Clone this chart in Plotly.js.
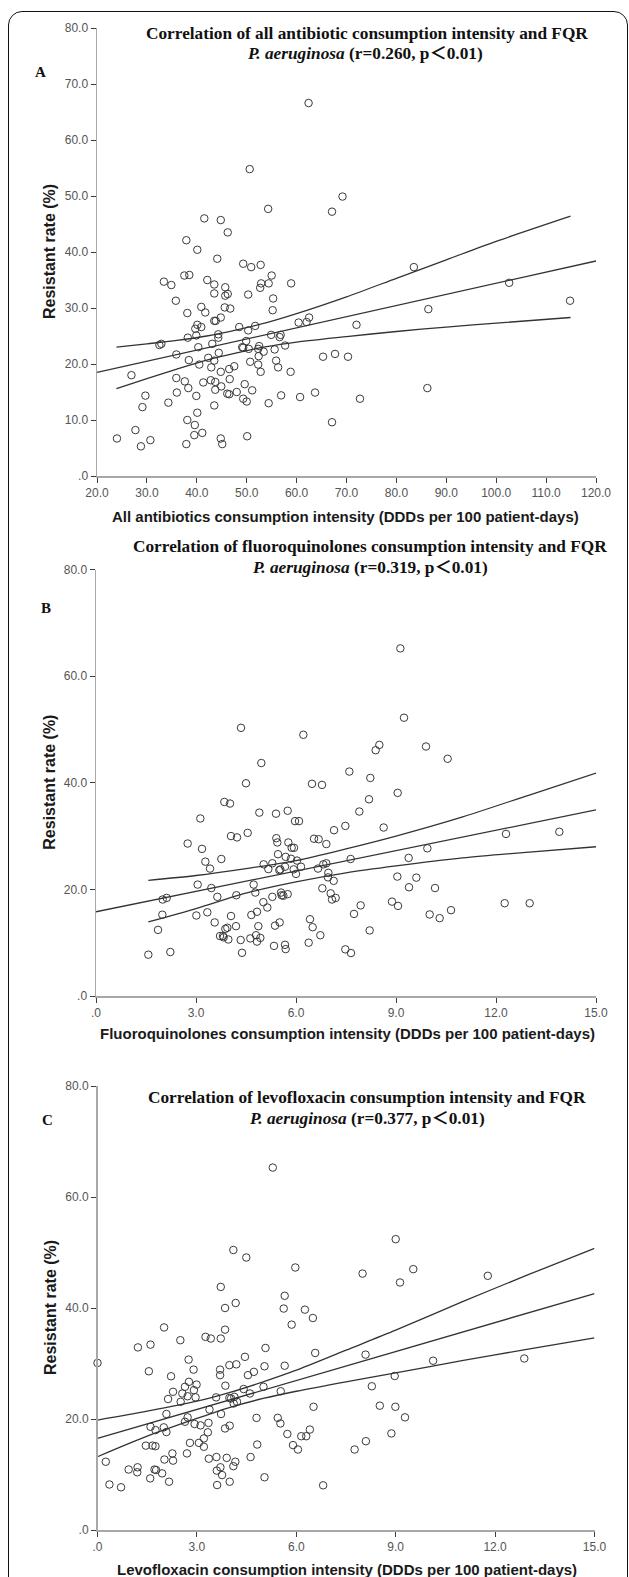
<!DOCTYPE html>
<html><head><meta charset="utf-8">
<script src="https://cdn.plot.ly/plotly-3.0.1.min.js"></script>
<style>
html,body{margin:0;padding:0;background:#fff;overflow:hidden;width:629px;height:1577px;}
#frame{position:absolute;left:8px;top:11px;width:620px;height:1640px;border:1.5px solid #111;border-radius:14px;box-sizing:border-box;}
#chart{position:absolute;left:0;top:0;width:629px;height:1577px;}
</style></head><body>
<div id="frame"></div>
<div id="chart"></div>
<script>
// ---------- Panel A: all antibiotics ----------
const aX = [54.3,67.1,41.5,44.8,46.2,37.9,40.1,44.1,49.3,50.9,52.8,55.0,37.5,38.5,33.4,34.9,42.1,43.5,45.7,52.9,52.7,54.4,58.9,43.5,45.7,46.2,50.3,55.3,35.8,55.2,40.9,45.6,46.7,38.1,41.7,43.5,43.8,44.8,40.1,40.9,39.7,48.5,51.7,50.3,60.4,62.0,62.5,72.0,38.2,39.9,44.3,44.3,54.9,56.8,56.6,32.5,32.9,43.1,40.3,49.1,49.3,49.9,50.4,52.5,52.3,57.7,55.6,53.4,44.4,35.9,52.4,65.3,67.7,70.3,38.4,42.3,43.5,50.7,55.9,40.5,52.3,42.9,47.5,46.5,56.3,44.8,52.8,58.8,26.9,35.9,37.6,42.8,46.6,41.3,43.7,49.6,38.3,43.7,44.9,51.1,36.0,29.7,39.9,46.1,46.5,48.0,49.3,50.0,56.9,60.7,63.7,54.4,34.3,29.1,43.5,40.1,38.1,39.6,67.1,27.7,39.5,41.1,50.1,24.0,30.7,44.8,28.8,37.9,45.1,62.4,50.6,69.2,83.5,102.6,114.8,86.4,72.7,86.2];
const aY = [47.7,47.2,46.0,45.7,43.5,42.1,40.4,38.8,37.9,37.3,37.7,35.8,35.8,35.9,34.7,34.1,35.0,34.2,33.7,34.4,33.6,34.4,34.4,32.6,32.2,32.5,32.4,31.7,31.3,29.6,30.2,30.1,29.9,29.1,29.2,27.7,27.7,28.3,27.0,26.6,26.3,26.6,26.8,26.0,27.4,27.5,28.3,27.0,24.7,25.1,25.3,24.7,25.2,25.2,24.8,23.4,23.6,23.6,23.0,23.0,22.9,24.1,22.7,23.2,22.7,23.3,22.6,22.2,22.0,21.7,21.4,21.3,21.8,21.3,20.7,21.1,20.6,20.4,20.6,19.9,19.9,19.4,19.6,19.1,19.4,18.6,18.6,18.6,18.0,17.5,16.9,17.1,17.3,16.7,16.8,16.4,15.7,15.4,16.0,15.3,14.9,14.35,14.3,14.7,14.6,15.0,13.8,13.3,14.4,14.1,14.9,13.0,13.1,12.3,12.6,11.3,10.0,9.1,9.6,8.2,7.3,7.7,7.1,6.7,6.4,6.7,5.3,5.7,5.7,66.6,54.8,49.9,37.3,34.5,31.3,29.8,13.8,15.7];
const aFitX = [20, 120];
const aFitY = [18.5, 38.4];
const aBandX = [23.9, 30, 36, 42, 48, 54, 60, 70, 80, 90, 100, 114.9];
const aUpY   = [23.0, 23.6, 24.2, 25.0, 26.1, 27.4, 29.0, 32.0, 35.3, 38.6, 41.9, 46.4];
const aLoY   = [15.6, 17.4, 19.1, 20.7, 22.0, 23.1, 23.9, 24.9, 25.8, 26.6, 27.3, 28.3];
const aXTicks = [20,30,40,50,60,70,80,90,100,110,120];
const aXTickText = ['20.0','30.0','40.0','50.0','60.0','70.0','80.0','90.0','100.0','110.0','120.0'];
const aYTicks = [0,10,20,30,40,50,60,70,80];
const aYTickText = ['.0','10.0','20.0','30.0','40.0','50.0','60.0','70.0','80.0'];

// ---------- Panel B: fluoroquinolones ----------
const bX = [4.35,6.22,8.50,8.39,4.96,7.60,8.23,4.50,6.48,6.78,8.19,3.85,4.02,7.90,3.13,4.90,5.40,5.75,5.97,6.09,7.48,8.63,7.14,4.55,4.05,4.23,5.41,6.54,6.68,2.75,5.44,5.77,6.91,5.87,5.94,3.18,5.46,5.69,5.85,6.03,3.76,3.28,3.42,5.03,5.29,5.17,5.53,5.50,5.67,5.93,6.00,6.15,6.66,6.82,6.91,7.64,6.97,6.96,7.13,3.05,3.46,4.73,4.78,3.64,4.21,2.00,2.12,5.29,5.55,5.57,5.62,5.75,6.79,7.04,7.08,7.19,5.02,5.14,4.83,4.66,1.99,3.01,3.34,4.05,7.94,7.74,3.56,3.88,3.94,4.20,4.87,5.37,5.51,6.42,6.50,1.86,3.72,3.81,3.83,3.97,4.34,4.63,4.80,4.93,4.83,6.73,8.21,5.34,5.67,5.69,6.38,7.48,7.65,4.38,1.57,2.23,9.05,9.04,8.88,9.13,9.24,9.90,10.55,12.30,13.90,9.94,9.38,9.61,9.39,10.17,9.06,10.01,10.31,10.65,12.26,13.01];
const bY = [50.3,49.0,47.1,46.1,43.7,42.1,40.9,39.9,39.8,39.6,36.9,36.4,36.1,34.6,33.3,34.4,34.2,34.75,32.8,32.8,31.9,31.6,31.1,30.6,30.0,29.75,29.6,29.5,29.4,28.6,28.8,28.8,28.5,27.8,27.8,27.6,26.6,26.1,25.75,25.4,25.7,25.2,23.9,24.7,24.9,23.8,23.75,23.6,24.25,23.75,22.9,24.25,23.9,24.7,24.9,25.7,23.1,22.25,21.6,20.9,20.25,20.9,19.4,18.6,18.9,18.1,18.4,18.6,19.4,18.9,18.8,19.1,20.2,19.25,18.1,18.4,17.6,16.6,15.8,15.2,15.25,15.1,15.7,15.0,17.0,15.4,13.8,12.6,12.8,13.1,13.1,13.2,13.8,14.4,12.9,12.4,11.25,11.25,11.0,10.6,10.5,10.8,11.4,10.9,10.2,11.4,12.3,9.4,9.6,8.8,10.0,8.75,8.06,8.1,7.75,8.25,38.1,22.4,17.7,65.2,52.2,46.8,44.5,30.4,30.8,27.7,25.9,22.2,20.4,20.25,16.9,15.3,14.6,16.1,17.4,17.4];
const bFitX = [0, 15];
const bFitY = [15.8, 34.9];
const bBandX = [1.57, 3, 4.5, 6, 7.5, 9, 11, 13, 15];
const bUpY   = [21.7, 22.6, 23.9, 25.4, 27.6, 30.0, 33.6, 37.7, 41.8];
const bLoY   = [13.9, 16.4, 19.3, 21.4, 23.1, 24.4, 25.9, 27.0, 28.0];
const bXTicks = [0,3,6,9,12,15];
const bXTickText = ['.0','3.0','6.0','9.0','12.0','15.0'];
const bYTicks = [0,20,40,60,80];
const bYTickText = ['.0','20.0','40.0','60.0','80.0'];

// ---------- Panel C: levofloxacin ----------
const cX = [4.10,4.49,5.97,8.00,9.00,3.72,5.65,5.62,6.26,6.50,3.85,4.17,5.86,2.01,3.85,2.50,3.26,3.42,3.72,1.22,1.60,5.07,6.57,8.09,0.00,4.45,2.75,3.98,4.19,5.65,3.70,2.90,5.04,4.72,4.54,3.70,1.55,2.22,8.28,2.76,2.64,2.99,2.91,3.86,5.01,5.53,2.28,2.13,2.56,2.72,2.96,2.51,3.58,3.98,4.03,4.13,4.11,4.21,4.41,4.60,3.38,6.52,2.08,3.73,2.64,2.72,2.93,3.11,3.35,1.60,1.75,2.00,2.08,4.80,5.44,5.52,3.33,3.85,3.99,3.21,3.06,3.21,2.79,1.46,1.66,1.75,5.73,6.15,6.30,6.41,4.82,5.90,6.05,7.76,8.10,8.87,0.25,2.02,2.26,2.28,2.70,3.36,3.59,3.90,4.16,4.10,4.62,0.94,1.21,1.20,1.72,1.77,1.59,1.95,2.16,3.60,3.71,3.76,3.99,3.61,5.04,0.36,0.71,6.81,8.97,8.99,9.53,9.13,11.78,10.13,12.88,9.28,8.52,5.29];
const cY = [50.45,49.1,47.3,46.2,52.4,43.8,42.2,39.9,39.7,38.2,40.0,40.9,37.0,36.5,36.1,34.2,34.8,34.5,34.5,32.9,33.4,32.8,31.9,31.6,30.1,31.2,30.7,29.7,29.85,29.6,28.9,28.9,29.5,28.5,27.9,27.9,28.6,27.7,25.9,26.7,25.8,26.2,25.2,26.0,25.8,25.0,24.9,23.6,24.6,24.1,23.9,23.1,23.9,23.8,23.7,24.0,22.8,23.1,25.4,24.6,21.7,22.2,20.9,20.9,19.5,20.3,19.1,18.85,19.3,18.6,18.0,18.5,17.65,20.2,20.2,19.2,17.6,18.3,18.8,16.5,15.7,15.0,15.7,15.2,15.2,15.1,17.3,16.9,16.9,18.1,15.4,15.3,14.5,14.5,16.0,17.4,12.3,12.7,13.8,12.5,13.8,12.85,13.15,13.0,12.3,11.5,13.15,10.9,11.3,10.4,10.9,10.8,9.3,10.2,8.7,10.7,11.3,9.9,8.7,8.1,9.5,8.2,7.7,8.05,27.75,22.2,47.0,44.6,45.8,30.5,30.9,20.3,22.4,65.3];
const cFitX = [0, 15];
const cFitY = [16.5, 42.6];
const cBandX = [0, 1.5, 3, 4, 5, 6, 7.5, 9, 11, 13, 15];
const cUpY   = [19.8, 21.4, 23.2, 24.8, 26.7, 28.8, 32.4, 36.0, 41.1, 46.0, 50.75];
const cLoY   = [13.2, 16.9, 20.1, 22.1, 23.7, 25.0, 26.7, 28.3, 30.5, 32.6, 34.6];
const cXTicks = bXTicks, cXTickText = bXTickText, cYTicks = bYTicks, cYTickText = bYTickText;

// ---------- texts ----------
const titlesL1 = ['Correlation of all antibiotic consumption intensity and FQR',
                  'Correlation of fluoroquinolones consumption intensity and FQR',
                  'Correlation of levofloxacin consumption intensity and FQR'];
const titlesL2 = ['(r=0.260, p\uFF1C0.01)', '(r=0.319, p\uFF1C0.01)', '(r=0.377, p\uFF1C0.01)'];
const xTitles = ['All antibiotics consumption intensity (DDDs per 100 patient-days)',
                 'Fluoroquinolones consumption intensity (DDDs per 100 patient-days)',
                 'Levofloxacin consumption intensity (DDDs per 100 patient-days)'];
const panelLetters = ['A','B','C'];
const yTitle = 'Resistant rate (%)';

// ---------- build ----------
const W = 629, H = 1577;
const px = v => v / W, py = v => 1 - v / H;
const INK = '#3a3a3a';
const panels = [
  {x:aX,y:aY,fx:aFitX,fy:aFitY,bx:aBandX,up:aUpY,lo:aLoY,xr:[20,120],xt:aXTicks,xtt:aXTickText,yt:aYTicks,ytt:aYTickText,
   xd:[97,596], yd:[28,476], t1:[367,33.5], t2:[365,53.5], let:[40,72], xtp:[345,516.5], ytp:[50,252]},
  {x:bX,y:bY,fx:bFitX,fy:bFitY,bx:bBandX,up:bUpY,lo:bLoY,xr:[0,15],xt:bXTicks,xtt:bXTickText,yt:bYTicks,ytt:bYTickText,
   xd:[96,596], yd:[569.5,996], t1:[370,547], t2:[370,567], let:[46,608], xtp:[347,1033], ytp:[50,782.7]},
  {x:cX,y:cY,fx:cFitX,fy:cFitY,bx:cBandX,up:cUpY,lo:cLoY,xr:[0,15],xt:cXTicks,xtt:cXTickText,yt:cYTicks,ytt:cYTickText,
   xd:[97.5,594.5], yd:[1086,1530], t1:[367,1097], t2:[367,1118], let:[47,1120], xtp:[346.5,1569.5], ytp:[50,1308]}
];

const traces = [];
const layout = {
  width: W, height: H, margin:{l:0,r:0,t:0,b:0},
  paper_bgcolor:'rgba(0,0,0,0)', plot_bgcolor:'rgba(0,0,0,0)',
  showlegend:false, annotations:[], font:{family:'Liberation Sans, Arial, sans-serif'}
};
const tickFont = {family:'Liberation Sans Narrow, Liberation Sans, Arial, sans-serif', size:12, color:'#555'};

panels.forEach((p, i) => {
  const sfx = i === 0 ? '' : String(i + 1);
  const xa = 'x' + sfx, ya = 'y' + sfx;
  layout['xaxis' + sfx] = {
    domain:[px(p.xd[0]), px(p.xd[1])], range:p.xr, anchor:ya,
    tickmode:'array', tickvals:p.xt, ticktext:p.xtt,
    showline:true, linecolor:'#a8a8a8', linewidth:1.5,
    ticks:'outside', ticklen:5, tickwidth:1, tickcolor:'#3c3c3c',
    showgrid:false, zeroline:false, tickfont:tickFont, fixedrange:true
  };
  layout['yaxis' + sfx] = {
    domain:[py(p.yd[1]), py(p.yd[0])], range:[0,80], anchor:xa,
    tickmode:'array', tickvals:p.yt, ticktext:p.ytt,
    showline:true, linecolor:'#a8a8a8', linewidth:1.5,
    ticks:'outside', ticklen:5, tickwidth:1, tickcolor:'#3c3c3c',
    showgrid:false, zeroline:false, tickfont:tickFont, fixedrange:true
  };
  traces.push({type:'scatter', mode:'markers', x:p.x, y:p.y, xaxis:xa, yaxis:ya, cliponaxis:false,
    marker:{symbol:'circle-open', size:7.5, color:INK, line:{width:1, color:INK}}, hoverinfo:'skip'});
  traces.push({type:'scatter', mode:'lines', x:p.fx, y:p.fy, xaxis:xa, yaxis:ya,
    line:{color:'#333', width:1.3}, hoverinfo:'skip'});
  traces.push({type:'scatter', mode:'lines', x:p.bx, y:p.up, xaxis:xa, yaxis:ya,
    line:{color:'#333', width:1.3, shape:'spline', smoothing:0.8}, hoverinfo:'skip'});
  traces.push({type:'scatter', mode:'lines', x:p.bx, y:p.lo, xaxis:xa, yaxis:ya,
    line:{color:'#333', width:1.3, shape:'spline', smoothing:0.8}, hoverinfo:'skip'});

  const serif = 'Liberation Serif, Times New Roman, Noto Sans CJK SC, serif';
  const A = layout.annotations;
  A.push({xref:'paper', yref:'paper', x:px(p.t1[0]), y:py(p.t1[1]), xanchor:'center', yanchor:'middle', showarrow:false,
    text:'<b>' + titlesL1[i] + '</b>', font:{family:serif, size:17.3, color:'#111'}});
  A.push({xref:'paper', yref:'paper', x:px(p.t2[0]), y:py(p.t2[1]), xanchor:'center', yanchor:'middle', showarrow:false,
    text:'<b><i>P. aeruginosa</i> ' + titlesL2[i] + '</b>', font:{family:serif, size:17.3, color:'#111'}});
  A.push({xref:'paper', yref:'paper', x:px(p.let[0]), y:py(p.let[1]), xanchor:'center', yanchor:'middle', showarrow:false,
    text:'<b>' + panelLetters[i] + '</b>', font:{family:serif, size:15, color:'#111'}});
  A.push({xref:'paper', yref:'paper', x:px(p.xtp[0]), y:py(p.xtp[1]), xanchor:'center', yanchor:'middle', showarrow:false,
    text:'<b>' + xTitles[i] + '</b>', font:{family:'Liberation Sans, Arial, sans-serif', size:15, color:'#1a1a1a'}});
  A.push({xref:'paper', yref:'paper', x:px(p.ytp[0]), y:py(p.ytp[1]), xanchor:'center', yanchor:'middle', showarrow:false,
    textangle:-90, text:'<b>' + yTitle + '</b>', font:{family:'Liberation Sans, Arial, sans-serif', size:16, color:'#1a1a1a'}});
});

Plotly.newPlot('chart', traces, layout, {staticPlot:true, displayModeBar:false});
</script></body></html>
